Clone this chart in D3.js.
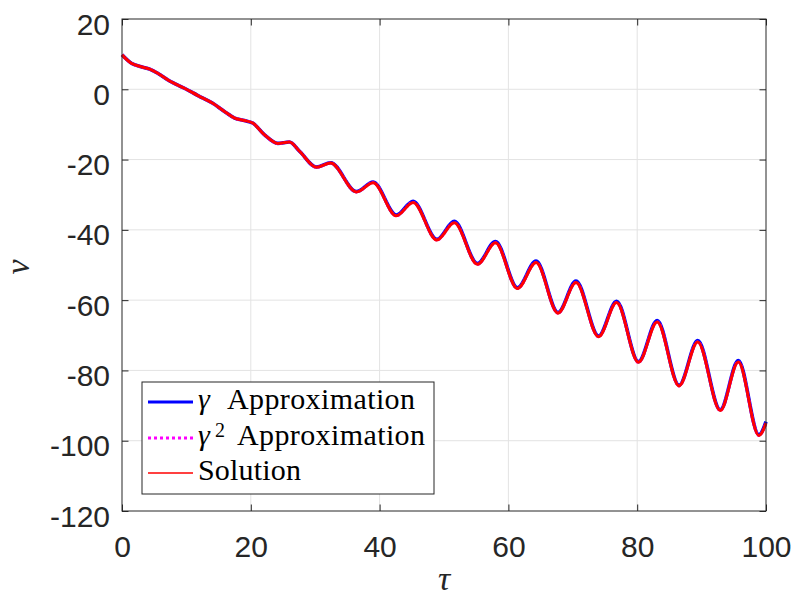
<!DOCTYPE html>
<html>
<head>
<meta charset="utf-8">
<script src="https://cdn.jsdelivr.net/npm/d3@7"></script>
<style>
  html, body { margin: 0; padding: 0; background: #fff; }
  svg { display: block; }
</style>
</head>
<body>
<div id="chart"></div>
<script>
// values
const tau = [0, 1.45, 3.0, 4.3, 5.6, 7.4, 9.7, 11.8, 14.1, 15.9, 17.5, 19.0, 20.3, 22.1, 24.2, 26.0, 27.6,
  30.2, 32.4, 36.4, 39.0, 42.6, 45.2, 48.9, 51.6, 55.2, 58.0, 61.4, 64.3, 67.7, 70.5, 74.0, 76.8,
  80.2, 83.1, 86.5, 89.4, 92.9, 95.7, 98.9, 100];
const solution = [9.8, 7.4, 6.4, 5.75, 4.5, 2.35, 0.3, -1.8, -4.0, -6.3, -8.2, -8.9, -9.6, -12.9, -15.4, -15.0, -17.7,
  -22.2, -21.0, -29.2, -26.6, -36.0, -32.2, -42.9, -38.0, -49.8, -43.7, -56.7, -49.3, -63.7, -55.0, -70.4, -60.7,
  -77.7, -66.2, -84.4, -71.9, -91.4, -77.6, -98.5, -95.0];
const gammaApprox = [9.8, 7.4, 6.4, 5.75, 4.5, 2.35, 0.3, -1.8, -4.0, -6.3, -8.2, -8.9, -9.6, -12.9, -15.4, -15.0, -17.7,
  -22.1, -20.9, -29.1, -26.4, -35.8, -31.9, -42.7, -37.6, -49.6, -43.3, -56.5, -48.9, -63.5, -54.6, -70.2, -60.3,
  -77.5, -65.8, -84.2, -71.5, -91.2, -77.2, -98.3, -94.6];
const gamma2Approx = [9.8, 7.4, 6.4, 5.75, 4.5, 2.35, 0.3, -1.8, -4.0, -6.3, -8.2, -8.9, -9.6, -12.9, -15.4, -15.0, -17.7,
  -22.2, -21.0, -29.2, -26.6, -36.0, -32.2, -42.9, -38.0, -49.8, -43.7, -56.7, -49.3, -63.7, -55.0, -70.4, -60.7,
  -77.7, -66.2, -84.4, -71.9, -91.4, -77.6, -98.5, -95.0];

const xTicks = [0, 20, 40, 60, 80, 100];
const yTicks = [20, 0, -20, -40, -60, -80, -100, -120];

const W = 793, H = 598;
const plotL = 122, plotR = 766, plotT = 19, plotB = 511;
const axisColor = '#262626';
const tickFont = '"Liberation Sans", Arial, sans-serif';
const serif = '"Liberation Serif", "Times New Roman", serif';

const svg = d3.select('#chart').append('svg')
  .attr('width', W).attr('height', H)
  .style('background', '#fff');

const x = d3.scaleLinear().domain([0, 100]).range([plotL, plotR]);
const y = d3.scaleLinear().domain([-120, 20]).range([plotB, plotT]);

// grid
svg.append('g').selectAll('line').data(xTicks.slice(1, -1)).join('line')
  .attr('x1', d => x(d)).attr('x2', d => x(d))
  .attr('y1', plotT).attr('y2', plotB)
  .attr('stroke', '#e3e3e3').attr('stroke-width', 1);
svg.append('g').selectAll('line').data(yTicks.slice(1, -1)).join('line')
  .attr('x1', plotL).attr('x2', plotR)
  .attr('y1', d => y(d)).attr('y2', d => y(d))
  .attr('stroke', '#e3e3e3').attr('stroke-width', 1);

// axes (ticks point inward), plain hyphen for negatives like the original
const plain = d => String(d);
const tickLen = 6.5;
const xAxis = svg.append('g').attr('transform', `translate(0,${plotB})`)
  .call(d3.axisBottom(x).tickValues(xTicks).tickFormat(plain).tickSize(-tickLen).tickSizeOuter(0).tickPadding(24.5));
const xAxisTop = svg.append('g').attr('transform', `translate(0,${plotT})`)
  .call(d3.axisTop(x).tickValues(xTicks).tickSize(-tickLen).tickSizeOuter(0).tickFormat(''));
const yAxis = svg.append('g').attr('transform', `translate(${plotL},0)`)
  .call(d3.axisLeft(y).tickValues(yTicks).tickFormat(plain).tickSize(-tickLen).tickSizeOuter(0).tickPadding(12));
const yAxisRight = svg.append('g').attr('transform', `translate(${plotR},0)`)
  .call(d3.axisRight(y).tickValues(yTicks).tickSize(-tickLen).tickSizeOuter(0).tickFormat(''));

[xAxis, xAxisTop, yAxis, yAxisRight].forEach(g => {
  g.select('.domain').remove();
  g.selectAll('.tick line').attr('stroke', axisColor).attr('stroke-width', 1);
  g.selectAll('.tick text')
    .attr('fill', axisColor)
    .style('font-family', tickFont)
    .style('font-size', '30px');
});
yAxis.selectAll('.tick text').attr('dy', null).attr('y', 15);

// curves
const line = d3.line().x(d => x(d[0])).y(d => y(d[1])).curve(d3.curveMonotoneX);
const plotG = svg.append('g');
plotG.append('path').datum(tau.map((t, i) => [t, gammaApprox[i]]))
  .attr('d', line).attr('fill', 'none')
  .attr('stroke', '#0000ff').attr('stroke-width', 3.6);
plotG.append('path').datum(tau.map((t, i) => [t, gamma2Approx[i]]))
  .attr('d', line).attr('fill', 'none')
  .attr('stroke', '#ff00ff').attr('stroke-width', 3).attr('stroke-dasharray', '2,2');
plotG.append('path').datum(tau.map((t, i) => [t, solution[i]]))
  .attr('d', line).attr('fill', 'none')
  .attr('stroke', '#ff0000').attr('stroke-width', 3);

// box
svg.append('rect')
  .attr('x', plotL).attr('y', plotT)
  .attr('width', plotR - plotL).attr('height', plotB - plotT)
  .attr('fill', 'none').attr('stroke', axisColor).attr('stroke-width', 1);

// axis labels
svg.append('text')
  .attr('x', (plotL + plotR) / 2).attr('y', 590)
  .attr('text-anchor', 'middle')
  .style('font-family', serif).style('font-style', 'italic').style('font-size', '34px')
  .attr('fill', axisColor)
  .text('τ');
svg.append('text')
  .attr('transform', `translate(29,${(plotT + plotB) / 2 + 2}) rotate(-90)`)
  .attr('text-anchor', 'middle')
  .style('font-family', serif).style('font-style', 'italic').style('font-size', '34px')
  .attr('fill', axisColor)
  .text('v');

// legend
const leg = svg.append('g');
leg.append('rect')
  .attr('x', 142).attr('y', 382).attr('width', 292).attr('height', 112)
  .attr('fill', '#fff').attr('stroke', axisColor).attr('stroke-width', 1);

const legendRows = [
  { y: 402, color: '#0000ff', width: 3, dash: null },
  { y: 438, color: '#ff00ff', width: 3, dash: '3,3' },
  { y: 473, color: '#ff0000', width: 1.5, dash: null }
];
leg.selectAll('line').data(legendRows).join('line')
  .attr('x1', 148).attr('x2', 193)
  .attr('y1', d => d.y).attr('y2', d => d.y)
  .attr('stroke', d => d.color).attr('stroke-width', d => d.width)
  .attr('stroke-dasharray', d => d.dash);

const legText = (xp, yp) => leg.append('text')
  .attr('x', xp).attr('y', yp)
  .style('font-family', serif).style('font-size', '30px')
  .attr('fill', '#000');

const t1 = legText(198, 409);
t1.append('tspan').style('font-style', 'italic').text('γ');
t1.append('tspan').attr('x', 227).attr('textLength', 188).text('Approximation');

const t2 = legText(198, 445);
t2.append('tspan').style('font-style', 'italic').text('γ');
t2.append('tspan').attr('x', 215).attr('dy', -8).style('font-size', '20px').text('2');
t2.append('tspan').attr('x', 237).attr('dy', 8).attr('textLength', 188).text('Approximation');

const t3 = legText(198, 480);
t3.append('tspan').attr('textLength', 103).text('Solution');
</script>
</body>
</html>
